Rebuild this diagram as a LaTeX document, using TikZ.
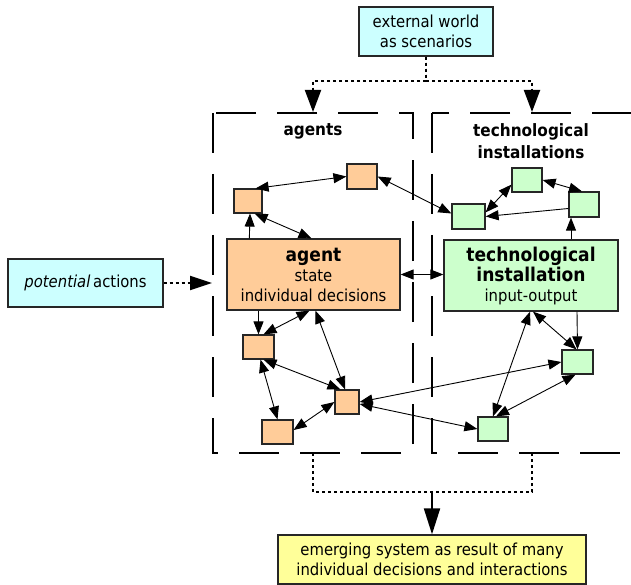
\documentclass[tikz,border=0pt]{standalone}
\usepackage{fontspec}
\setmainfont{DejaVu Sans}[FakeStretch=0.9]
\usetikzlibrary{arrows.meta}
\definecolor{cyanfill}{HTML}{CCFFFF}
\definecolor{agfill}{HTML}{FFCC99}
\definecolor{tefill}{HTML}{CCFFCC}
\definecolor{yelfill}{HTML}{FFFF99}
\begin{document}
\begin{tikzpicture}[x=1pt,y=-1pt,
  box/.style={draw=black!85,line width=1.3pt,inner sep=0pt,align=center,font=\fontsize{16.5}{20}\selectfont},
  sbox/.style={draw=black!85,line width=1.2pt,inner sep=0pt},
  ag/.style={fill=agfill},
  te/.style={fill=tefill},
  hdr/.style={align=center,inner sep=0pt,font=\fontsize{17}{22}\selectfont\bfseries},
  lnk/.style={line width=0.9pt,{Triangle[length=13pt,width=10pt]}-{Triangle[length=13pt,width=10pt]}},
  one/.style={line width=0.9pt,-{Triangle[length=13pt,width=10pt]}},
  dotline/.style={line width=2pt,dash pattern=on 3pt off 3pt},
  bighead/.style={-{Triangle[length=22pt,width=16pt]}},
  dashbox/.style={line width=2.6pt,dash pattern=on 40pt off 21pt}
]
\useasboundingbox (0,0) rectangle (631,585);
\clip (0,0) rectangle (631,585);

% dashed group boxes
\draw[dashbox] (213,113) -- (213,453) -- (413,453) -- (413,113) -- cycle;
\draw[dashbox] (432,113) -- (432,453) -- (680,453) -- (680,113) -- cycle;

% headers
\node[hdr] (hag) at (313,131) {agents};
\node[hdr] (hte) at (531,141) {technological\\installations};

% main boxes
\node[box,fill=cyanfill,minimum width=134pt,minimum height=49pt] (ext) at (426,31.5) {external world\\as scenarios};
\node[box,fill=cyanfill,minimum width=155pt,minimum height=48pt] (pot) at (85.5,283) {{\itshape potential}\,actions};
\node[box,fill=yelfill,minimum width=308pt,minimum height=49pt] (emerg) at (432,559.5) {emerging system as result of many\\individual decisions and interactions};
\node[box,ag,minimum width=173pt,minimum height=71pt] (agent) at (313.5,274.5) {{\fontsize{19}{22}\selectfont\bfseries agent}\\state\\individual decisions};
\node[box,te,minimum width=174pt,minimum height=71pt] (tech) at (531,275.5) {{\fontsize{19}{22}\selectfont\bfseries technological}\\{\fontsize{19}{22}\selectfont\bfseries installation}\\input-output};

% small agent boxes
\node[sbox,ag,minimum width=28pt,minimum height=24pt] (a1) at (248,201) {};
\node[sbox,ag,minimum width=30pt,minimum height=25pt] (a2) at (362,176.5) {};
\node[sbox,ag,minimum width=31pt,minimum height=24pt] (a3) at (258.5,347) {};
\node[sbox,ag,minimum width=24pt,minimum height=24pt] (a4) at (347,402) {};
\node[sbox,ag,minimum width=31pt,minimum height=24pt] (a5) at (277.5,432) {};
% small technology boxes
\node[sbox,te,minimum width=33pt,minimum height=25pt] (g1) at (468.5,216.5) {};
\node[sbox,te,minimum width=30pt,minimum height=24pt] (g2) at (527,180) {};
\node[sbox,te,minimum width=30pt,minimum height=25pt] (g3) at (584,204.5) {};
\node[sbox,te,minimum width=31pt,minimum height=24pt] (g4) at (577.5,362) {};
\node[sbox,te,minimum width=30pt,minimum height=24pt] (g5) at (493,429) {};

% coordinates for free ends
\coordinate (lt) at (313,112);
\coordinate (rt) at (532,112);
\coordinate (agl) at (212,283);
\coordinate (lb) at (313,453);
\coordinate (rb) at (532,453);
\coordinate (bj) at (432,492);

% dotted flows
\draw[dotline,bighead] (ext.south) -- ++(0,24) -| (lt);
\draw[dotline,bighead] (ext.south) -- ++(0,24) -| (rt);
\draw[dotline,-{Triangle[length=22pt,width=14pt]}] (pot.east) -- (agl);
\draw[dotline] (lb) -- ++(0,39) -| (rb);
\draw[line width=2pt,-{Triangle[length=26pt,width=16pt]}] (bj) -- (emerg.north);

% links
\draw[lnk] ([xshift=-7pt]a1.north east) -- (a2.west);
\draw[lnk] ([xshift=-8pt]a1.south east) -- ([xshift=-2pt]agent.north);
\draw[one] ([xshift=23pt]agent.north west) -- ([xshift=2pt]a1.south);
\draw[lnk] (a2.east) -- ([yshift=3pt]g1.west);
\draw[lnk] ([yshift=-9pt]g1.north east) -- ([yshift=8pt]g2.south west);
\draw[one] ([yshift=-4pt]g3.west) -- (g1.east);
\draw[lnk] (g2.east) -- ([xshift=-2pt]g3.north);
\draw[one] ([xshift=40pt]tech.north) -- ([xshift=-13pt]g3.south);
\draw[lnk] (agent.east) -- (agent.east -| tech.west);
\draw[one] (agent.south -| a3.north) -- (a3.north);
\draw[lnk] ([xshift=-4pt]agent.south) -- ([xshift=5pt]a3.north);
\draw[lnk] ([xshift=2pt]agent.south) -- ([xshift=-2pt]a4.north);
\draw[lnk] ([xshift=5pt]a3.south) -- ([xshift=6pt]a4.north west);
\draw[lnk] ([xshift=2pt]a3.south) -- (a5.north);
\draw[lnk] ([yshift=2pt]a5.east) -- (a4.west);
\draw[lnk] (a4.east) -- (g4.west);
\draw[lnk] ([yshift=-2pt]a4.east) -- (g5.west);
\draw[lnk] ([xshift=-1pt]tech.south) -- (g5.north);
\draw[lnk] ([xshift=2pt]tech.south) -- ([xshift=-1pt]g4.north);
\draw[one] ([xshift=46pt]tech.south) -- (g4.north);
\draw[lnk] ([xshift=-2pt]g4.south) -- ([xshift=3pt]g5.north);
\end{tikzpicture}
\end{document}
